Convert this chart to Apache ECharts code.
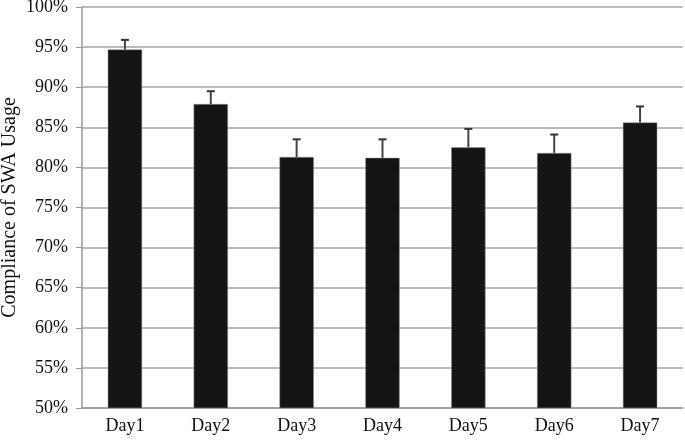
<!DOCTYPE html>
<html><head><meta charset="utf-8">
<script src="https://cdn.jsdelivr.net/npm/echarts@6/dist/echarts.min.js"></script>
<style>html,body{margin:0;padding:0;background:#fff}#c{width:685px;height:442px}</style>
</head><body><div id="c"></div>
<script>
const categories = ['Day1','Day2','Day3','Day4','Day5','Day6','Day7'];
const compliance = [94.7, 87.9, 81.3, 81.2, 82.5, 81.8, 85.6];
const errorTop = [95.9, 89.5, 83.5, 83.5, 84.8, 84.1, 87.6];
const yTicks = [50,55,60,65,70,75,80,85,90,95,100];

const chart = echarts.init(document.getElementById('c'));
const font = 'Liberation Serif';
chart.setOption({
  animation: false,
  grid: {left: 82, right: 2, top: 7, bottom: 34, outerBoundsMode: 'none', containLabel: false},
  xAxis: {
    type: 'category', data: categories,
    axisLine: {lineStyle: {color: '#9a9a9a', width: 1.5}},
    axisTick: {show: false},
    axisLabel: {color: '#111', fontFamily: font, fontSize: 18, margin: 9}
  },
  yAxis: {
    type: 'value', min: 50, max: 100, interval: 5,
    name: 'Compliance of SWA Usage', nameLocation: 'middle', nameGap: 62,
    nameMoveOverlap: false,
    nameTextStyle: {color: '#111', fontFamily: font, fontSize: 20},
    axisLine: {show: true, lineStyle: {color: '#9a9a9a', width: 1.5}},
    axisTick: {show: true, length: 6, lineStyle: {color: '#9a9a9a'}},
    splitLine: {lineStyle: {color: '#a5a5a5', width: 1.5}},
    axisLabel: {color: '#111', fontFamily: font, fontSize: 18, margin: 14,
      formatter: v => yTicks.includes(v) ? v + '%' : ''}
  },
  series: [
    {type: 'bar', data: compliance, barWidth: '40%',
     itemStyle: {color: '#141414', borderColor: '#9a9a9a', borderWidth: 0.5}, z: 2},
    {type: 'custom', z: 3,
     data: categories.map((c, i) => [i, compliance[i], errorTop[i]]),
     renderItem: (params, api) => {
       const base = api.coord([api.value(0), api.value(1)]);
       const top = api.coord([api.value(0), api.value(2)]);
       const hw = 4;
       return {type: 'group', children: [
         {type: 'line', shape: {x1: base[0], y1: base[1], x2: top[0], y2: top[1]},
          style: {stroke: '#444', lineWidth: 2}},
         {type: 'line', shape: {x1: top[0]-hw, y1: top[1], x2: top[0]+hw, y2: top[1]},
          style: {stroke: '#333', lineWidth: 2}}
       ]};
     }}
  ]
});
</script></body></html>
